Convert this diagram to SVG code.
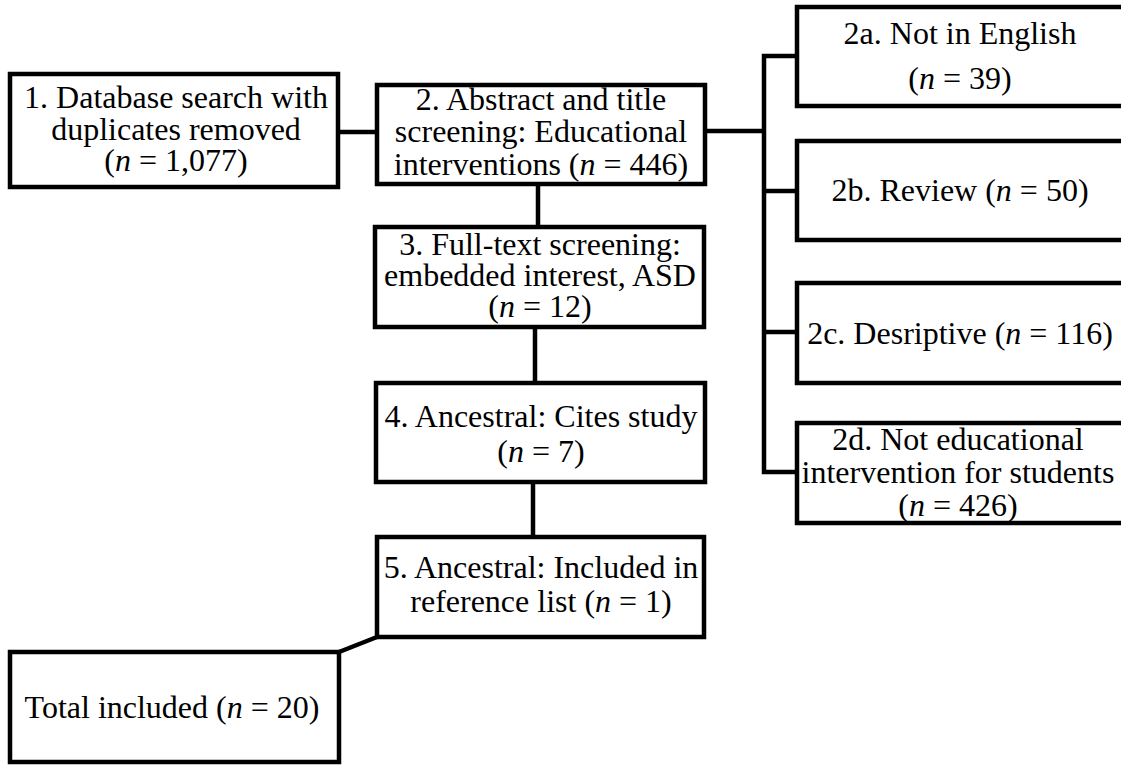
<svg xmlns="http://www.w3.org/2000/svg" width="1121" height="765" viewBox="0 0 1121 765">
<style>
.box{fill:#fff;stroke:#000;stroke-width:4.5}
.ln{fill:none;stroke:#000;stroke-width:4.5}
text{font-family:"Liberation Serif","Times New Roman",serif;font-size:32px;fill:#000;text-anchor:middle}
.i{font-style:italic}
</style>
<rect width="1121" height="765" fill="#fff"/>
<g id="connectors">
<path class="ln" d="M338,132 H377"/>
<path class="ln" d="M705,131 H764"/>
<path class="ln" d="M797,56 H764 V472 H797"/>
<path class="ln" d="M764,191 H797"/>
<path class="ln" d="M764,332 H797"/>
<path class="ln" d="M538,184 V227"/>
<path class="ln" d="M535,327 V383"/>
<path class="ln" d="M533,482 V537"/>
<path class="ln" d="M377,637 L339,652"/>
</g>
<g id="n1">
<rect class="box" x="10" y="74" width="328" height="113"/>
<text x="176" y="108">1. Database search with</text>
<text x="176" y="140">duplicates removed</text>
<text x="176" y="171">(<tspan class="i">n</tspan> = 1,077)</text>
</g>
<g id="n2">
<rect class="box" x="377" y="85" width="328" height="99"/>
<text x="541" y="110">2. Abstract and title</text>
<text x="541" y="142">screening: Educational</text>
<text x="541" y="175">interventions (<tspan class="i">n</tspan> = 446)</text>
</g>
<g id="n3">
<rect class="box" x="375" y="227" width="329" height="100"/>
<text x="540" y="255">3. Full-text screening:</text>
<text x="540" y="286">embedded interest, ASD</text>
<text x="540" y="317">(<tspan class="i">n</tspan> = 12)</text>
</g>
<g id="n4">
<rect class="box" x="376" y="383" width="329" height="99"/>
<text x="541" y="427">4. Ancestral: Cites study</text>
<text x="541" y="462">(<tspan class="i">n</tspan> = 7)</text>
</g>
<g id="n5">
<rect class="box" x="377" y="537" width="327" height="100"/>
<text x="541" y="578">5. Ancestral: Included in</text>
<text x="541" y="612">reference list (<tspan class="i">n</tspan> = 1)</text>
</g>
<g id="total">
<rect class="box" x="10" y="652" width="329" height="110"/>
<text x="172" y="718">Total included (<tspan class="i">n</tspan> = 20)</text>
</g>
<g id="n2a">
<rect class="box" x="797" y="7" width="330" height="99"/>
<text x="960" y="44">2a. Not in English</text>
<text x="960" y="89">(<tspan class="i">n</tspan> = 39)</text>
</g>
<g id="n2b">
<rect class="box" x="797" y="141" width="330" height="99"/>
<text x="960" y="201">2b. Review (<tspan class="i">n</tspan> = 50)</text>
</g>
<g id="n2c">
<rect class="box" x="797" y="283" width="330" height="100"/>
<text x="960" y="344">2c. Desriptive (<tspan class="i">n</tspan> = 116)</text>
</g>
<g id="n2d">
<rect class="box" x="797" y="423" width="330" height="100"/>
<text x="958" y="450">2d. Not educational</text>
<text x="958" y="483">intervention for students</text>
<text x="958" y="516">(<tspan class="i">n</tspan> = 426)</text>
</g>
</svg>
